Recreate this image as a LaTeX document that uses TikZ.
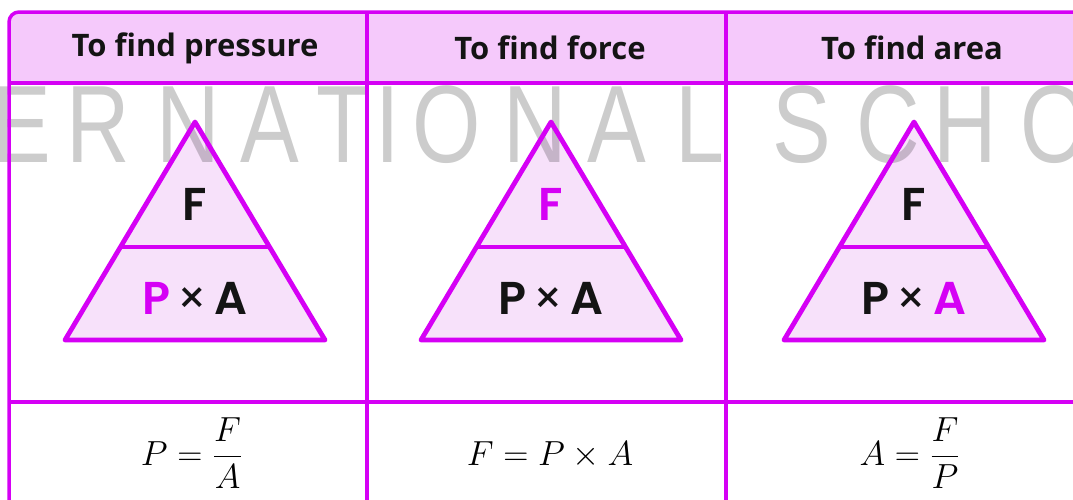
\documentclass[tikz,border=0pt]{standalone}
\usepackage{fontspec}
\newfontfamily\headfont{Open Sans}
\newfontfamily\trifont{Poppins}[BoldFont={* SemiBold}]
\newfontfamily\markfont{Liberation Sans}
\usetikzlibrary{positioning}
\definecolor{tablemag}{RGB}{213,0,245}
\definecolor{headfill}{RGB}{245,201,251}
\definecolor{trifill}{RGB}{247,225,250}
\definecolor{ink}{RGB}{20,20,20}
\newcommand{\bigmath}[1]{\scalebox{1.68}{\huge$\displaystyle #1$}}
\newcommand{\wmchar}[1]{\scalebox{0.8}[1]{#1}}
\newcommand{\tms}{{\mdseries\,×\,}}

\begin{document}
\begin{tikzpicture}[
    x=1pt, y=-1pt,
    rim/.style={draw=tablemag, line width=3.5pt},
    tri/.style={draw=tablemag, line width=4.8pt, line join=round},
    head/.style={font=\headfont\bfseries\fontsize{31}{36}\selectfont, text=ink},
    sym/.style={font=\trifont\bfseries\fontsize{46}{52}\selectfont, text=ink},
    formula/.style={anchor=base},
    wmark/.style={font=\markfont\fontsize{110}{110}\selectfont, anchor=base, text=black, text opacity=0.2, inner sep=0pt}
]
\useasboundingbox (0,0) rectangle (1073,499);
\fill[white] (0,0) rectangle (1073,499);
\begin{scope}
\clip (0,0) rectangle (1073,499);

\fill[headfill] (9,83) [rounded corners=10pt] -- (9,12) [sharp corners] -- (1100,12) -- (1100,83) -- cycle;
\foreach \cx in {195,551,914}
    \fill[trifill] (\cx,122) -- (\cx+130,340) -- (\cx-130,340) -- cycle;

\begin{scope}
\clip (0,85) rectangle (1073,499);
\foreach \ch/\cx [count=\i] in {E/22,R/98,N/188,A/270,T/343,I/388,O/447,N/535,A/617,L/700,S/802,C/888,H/965,O/1055}
    \node[wmark] (wm\i) at (\cx,162) {\wmchar{\ch}};
\end{scope}

\draw[rim] (9,520) [rounded corners=10pt] -- (9,12) [sharp corners] -- (1100,12);
\draw[rim] (9,83) -- (1100,83);
\draw[rim] (9,402) -- (1100,402);
\draw[rim] (367,12) -- (367,520);
\draw[rim] (726,12) -- (726,520);

\foreach \cx/\n in {195/1,551/2,914/3}{
    \draw[tri] (\cx,122) -- (\cx+130,340) -- (\cx-130,340) -- cycle;
    \draw[tri] (\cx-74.6,247) -- (\cx+74.6,247);
}
\end{scope}

\node[head] (h1) at (195,48) {To find pressure};
\node[head] (h2) at (550,48) {To find force};
\node[head] (h3) at (912,48) {To find area};

\node[sym] (top1) at (195,204) {F};
\node[sym] (bot1) at (195,298) {\textcolor{tablemag}{P}\tms A};
\node[sym] (top2) at (551,204) {\textcolor{tablemag}{F}};
\node[sym] (bot2) at (551,298) {P\tms A};
\node[sym] (top3) at (914,204) {F};
\node[sym] (bot3) at (914,298) {P\tms\textcolor{tablemag}{A}};

\node[formula] (f1) at (192,465) {\bigmath{P=\frac{F}{A}}};
\node[formula] (f2) at (550,465) {\bigmath{F=P\times A}};
\node[formula] (f3) at (910,465) {\bigmath{A=\frac{F}{P}}};
\end{tikzpicture}
\end{document}
